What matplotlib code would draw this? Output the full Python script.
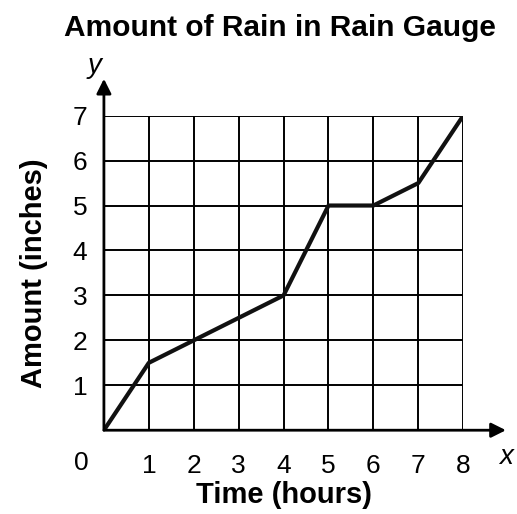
import matplotlib.pyplot as plt

# data
hours = [0, 1, 2, 3, 4, 5, 6, 7, 8]
inches = [0, 1.5, 2, 2.5, 3, 5, 5, 5.5, 7]
x_ticks = [1, 2, 3, 4, 5, 6, 7, 8]
y_ticks = [1, 2, 3, 4, 5, 6, 7]

plt.rcParams['font.family'] = ['Liberation Sans', 'DejaVu Sans']

fig = plt.figure(figsize=(5.17, 5.14), dpi=100)
ax = fig.add_axes([0.201, 0.163, 0.695, 0.612])

ax.set_xlim(0, 8)
ax.set_ylim(0, 7)
ax.set_xticks(x_ticks)
ax.set_yticks(y_ticks)
ax.grid(True, color='black', linewidth=1.4)
ax.tick_params(axis='x', length=0, labelsize=19, pad=17)
ax.tick_params(axis='y', length=0, labelsize=19, pad=12)
for s in ax.spines.values():
    s.set_visible(False)

ax.plot(hours, inches, color='#111111', linewidth=3, solid_capstyle='round', zorder=3)

# origin label sits left of the y axis
ax.text(-0.5, -0.74, '0', fontsize=19, ha='center', va='center')

# axis arrows
ax.annotate('', xy=(8.95, 0), xytext=(0, 0), annotation_clip=False,
            arrowprops=dict(arrowstyle='-|>', color='black', lw=2,
                            mutation_scale=22, shrinkA=0, shrinkB=0))
ax.annotate('', xy=(0, 7.82), xytext=(0, 0), annotation_clip=False,
            arrowprops=dict(arrowstyle='-|>', color='black', lw=2,
                            mutation_scale=22, shrinkA=0, shrinkB=0))
ax.text(8.95, -0.6, 'x', fontsize=20, style='italic', ha='center', va='center')
ax.text(-0.2, 8.1, 'y', fontsize=20, style='italic', ha='center', va='center')

ax.set_xlabel('Time (hours)', fontsize=21, fontweight='bold', labelpad=2)
ax.set_ylabel('Amount (inches)', fontsize=21, fontweight='bold', labelpad=18)
fig.text(0.542, 0.945, 'Amount of Rain in Rain Gauge', fontsize=21.5,
         fontweight='bold', ha='center', va='center')

fig.savefig('out.png', dpi=100)
